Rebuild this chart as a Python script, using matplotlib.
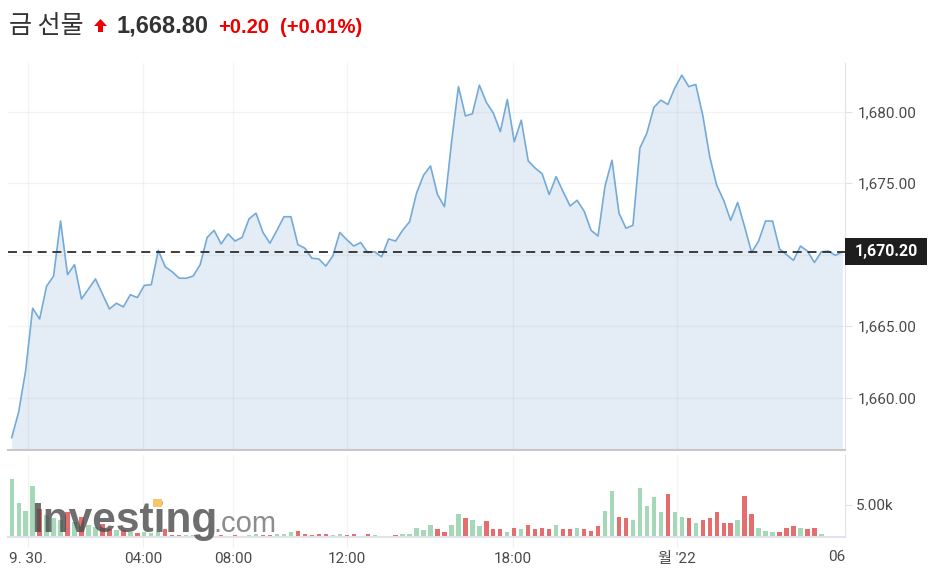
import matplotlib
matplotlib.use("Agg")
import matplotlib.pyplot as plt
import matplotlib.transforms as mtransforms
from matplotlib.patches import FancyArrow, Rectangle
import numpy as np

plt.rcParams['font.family'] = ['Roboto', 'Noto Sans CJK KR', 'DejaVu Sans']

# header
title = "금 선물"
last_price = "1,668.80"
change = "+0.20"
change_pct = "(+0.01%)"
prev_close = 1670.20
prev_close_label = "1,670.20"

# price series (one point per bar)
prices = [
    1657.2, 1659.0, 1661.9, 1666.25, 1665.5, 1667.8, 1668.5, 1672.35, 1668.6, 1669.3,
    1666.9, 1667.6, 1668.3, 1667.25, 1666.2, 1666.6, 1666.35, 1667.2, 1667.0, 1667.85,
    1667.9, 1670.3, 1669.15, 1668.8, 1668.35, 1668.35, 1668.5, 1669.3, 1671.2, 1671.7,
    1670.75, 1671.45, 1670.95, 1671.2, 1672.5, 1672.9, 1671.55, 1670.8, 1671.7, 1672.65,
    1672.65, 1670.7, 1670.45, 1669.75, 1669.7, 1669.2, 1669.9, 1671.55, 1671.05, 1670.6,
    1670.85, 1670.15, 1670.2, 1669.85, 1671.1, 1670.95, 1671.7, 1672.3, 1674.3, 1675.55,
    1676.2, 1674.2, 1673.35, 1677.8, 1681.75, 1679.7, 1679.85, 1681.85, 1680.65, 1679.9,
    1678.6, 1680.85, 1677.9, 1679.4, 1676.55, 1676.05, 1675.65, 1674.2, 1675.45, 1674.4,
    1673.4, 1673.8, 1673.05, 1671.7, 1671.3, 1674.8, 1676.6, 1672.9, 1671.85, 1672.05,
    1677.45, 1678.5, 1680.3, 1680.8, 1680.5, 1681.65, 1682.55, 1681.75, 1681.9, 1679.75,
    1676.85, 1674.85, 1673.8, 1672.4, 1673.65, 1671.95, 1670.15, 1670.95, 1672.35, 1672.35,
    1670.4, 1670.0, 1669.6, 1670.6, 1670.25, 1669.45, 1670.2, 1670.25, 1669.95, 1670.2,
]

volumes = [
    9100, 5370, 4100, 7890, 4310, 3420, 2890, 2630, 3950, 2370,
    3160, 1840, 1580, 2100, 1320, 1050, 1160, 790, 630, 790,
    680, 790, 1210, 370, 370, 260, 260, 110, 110, 110,
    260, 160, 260, 160, 370, 420, 260, 260, 530, 530,
    790, 1000, 530, 260, 530, 530, 260, 530, 260, 530,
    110, 530, 260, 110, 110, 260, 530, 530, 1470, 1050,
    1950, 1210, 740, 1950, 3630, 2890, 2630, 1740, 2420, 1210,
    1210, 740, 1470, 1210, 1950, 1210, 1470, 1210, 1950, 1210,
    1210, 1420, 1210, 1000, 1680, 4050, 7210, 3100, 2890, 2630,
    7630, 4840, 6210, 3840, 6680, 3840, 3100, 2890, 2160, 2630,
    2890, 3840, 2160, 2160, 2630, 6470, 3630, 1420, 950, 740,
    740, 1420, 1680, 1420, 1210, 1420, 530, 110, 110, 0,
]

tick_pos = [2.34, 18.8, 31.7, 48.0, 71.8, 95.3]
tick_labels = ["9. 30.", "04:00", "08:00", "12:00", "18:00", "월 '22"]
last_tick_label = "06"
price_ticks = [1660, 1665, 1670, 1675, 1680]
price_tick_labels = ["1,660.00", "1,665.00", "", "1,675.00", "1,680.00"]
vol_ticks = [5000]
vol_tick_labels = ["5.00k"]

W, H = 934, 575
fig = plt.figure(figsize=(W / 100, H / 100), dpi=100)


def box(l, t, r, b):
    return [l / W, 1 - b / H, (r - l) / W, (b - t) / H]


x = np.arange(len(prices))
xlim = (-0.53, 119.38)
ylim = (1656.34, 1683.4)
axis_grey = '#e0e3eb'
label_grey = '#4a4a4a'

# --- price panel
ax = fig.add_axes(box(8, 63, 845, 450))
ax.fill_between(x, prices, ylim[0], color='#e4edf5', lw=0, zorder=1)
ax.plot(x, prices, color='#74aad8', lw=1.2, zorder=3)
ax.axhline(prev_close, color='#2e2e2e', lw=1.3, ls=(0, (5, 3.2)), zorder=4)
ax.set_xlim(*xlim)
ax.set_ylim(*ylim)
ax.set_yticks(price_ticks)
ax.set_yticklabels(price_tick_labels)
ax.yaxis.tick_right()
ax.tick_params(axis='y', length=5, color=axis_grey, pad=4, labelsize=11, labelcolor=label_grey)
ax.set_xticks(tick_pos)
ax.tick_params(axis='x', length=0, labelbottom=False)
ax.set_axisbelow('line')
ax.grid(True, color='#000000', alpha=0.045, lw=1)
for s in ['top', 'left']:
    ax.spines[s].set_visible(False)
ax.spines['bottom'].set_color('#c8c8c8')
ax.spines['bottom'].set_linewidth(1.5)
ax.spines['right'].set_color(axis_grey)

# last close box on the right axis
trans = mtransforms.blended_transform_factory(ax.transAxes, ax.transData)
bw = 82 / 837
ax.add_patch(Rectangle((1.0, prev_close - 13.5 / 14.3), bw, 27 / 14.3, transform=trans,
                       facecolor='#1e1e1e', edgecolor='none', clip_on=False, zorder=5))
ax.text(1.0 + bw / 2, prev_close, prev_close_label, transform=trans, ha='center', va='center',
        color='white', fontsize=11.5, fontweight='bold', zorder=6)

# --- volume panel
green, red = '#a5d8b7', '#e46d6d'
colors = [green if i == 0 or prices[i] >= prices[i - 1] else red for i in range(len(prices))]
axv = fig.add_axes(box(8, 455, 845, 537))
axv.bar(x, volumes, width=0.62, color=colors, lw=0, zorder=2)
axv.set_xlim(*xlim)
axv.set_ylim(0, 12800)
axv.set_yticks(vol_ticks)
axv.set_yticklabels(vol_tick_labels)
axv.yaxis.tick_right()
axv.tick_params(axis='y', length=5, color=axis_grey, pad=3, labelsize=11, labelcolor=label_grey)
axv.set_xticks(tick_pos)
axv.set_xticklabels(tick_labels)
axv.tick_params(axis='x', length=7, color='#f0f0f3', pad=4, labelsize=11, labelcolor=label_grey)
axv.grid(True, axis='x', color='#000000', alpha=0.045, lw=1)
axv.set_axisbelow(True)
for s in ['top', 'left']:
    axv.spines[s].set_visible(False)
axv.spines['bottom'].set_color(axis_grey)
axv.spines['bottom'].set_linewidth(1.5)
axv.spines['right'].set_color(axis_grey)

fig.text(845 / W, 1 - 557 / H, last_tick_label, ha='right', va='center', fontsize=11, color=label_grey)

# watermark
fig.text(31 / W, 1 - 532 / H, "Investing", ha='left', va='baseline', fontsize=30.5,
         fontweight='bold', family=['Liberation Sans'], color='#4a4a4a', alpha=0.8, zorder=10)
fig.text(213 / W, 1 - 532 / H, ".com", ha='left', va='baseline', fontsize=21,
         family=['Liberation Sans'], color='#666666', alpha=0.75, zorder=10)
fig.add_artist(Rectangle((153 / W, 1 - 507 / H), 9 / W, 8 / H, transform=fig.transFigure,
                         facecolor='#f8c46c', edgecolor='none', zorder=11))

# header
base = 1 - 33 / H
fig.text(9 / W, base, title, ha='left', va='baseline', fontsize=18, color='#333333',
         family=['Noto Sans CJK KR', 'DejaVu Sans'])
fig.add_artist(FancyArrow(100.5 / W, 1 - 32 / H, 0, 13 / H, width=5 / W, head_width=13 / W,
                          head_length=7 / H, length_includes_head=True, transform=fig.transFigure,
                          color='#ee0000', lw=0))
fig.text(117 / W, base, last_price, ha='left', va='baseline', fontsize=17, fontweight='bold',
         family=['Liberation Sans'], color='#333333')
fig.text(218 / W, base, change, ha='left', va='baseline', fontsize=14.5, fontweight='bold',
         family=['Liberation Sans'], color='#ee0000')
fig.text(280 / W, base, change_pct, ha='left', va='baseline', fontsize=14.5, fontweight='bold',
         family=['Liberation Sans'], color='#ee0000')

fig.savefig('out.png', dpi=100)
